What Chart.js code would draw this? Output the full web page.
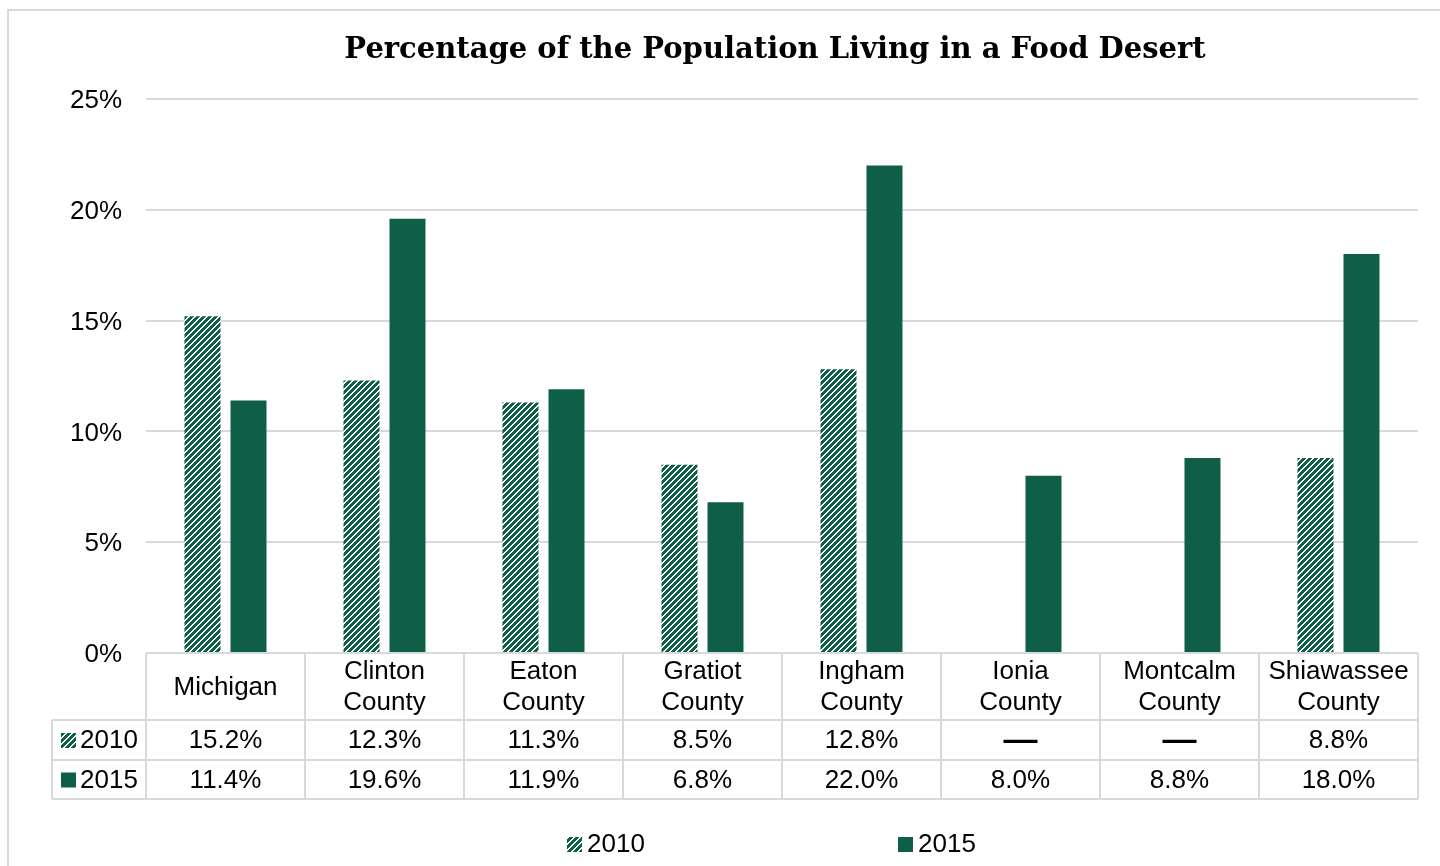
<!DOCTYPE html>
<html>
<head>
<meta charset="utf-8">
<script src="https://cdn.jsdelivr.net/npm/chart.js@4.4.1/dist/chart.umd.min.js"></script>
<style>
  html, body { margin: 0; padding: 0; background: #fff; }
  #wrap { position: relative; width: 1440px; height: 866px; }
</style>
</head>
<body>
<div id="wrap"><canvas id="chartFoodDesert" width="1440" height="866"></canvas></div>
<script>
// ---- data ----
const categories = [
  ['Michigan'],
  ['Clinton', 'County'],
  ['Eaton', 'County'],
  ['Gratiot', 'County'],
  ['Ingham', 'County'],
  ['Ionia', 'County'],
  ['Montcalm', 'County'],
  ['Shiawassee', 'County']
];
const seriesNames = ['2010', '2015'];
const values2010 = [15.2, 12.3, 11.3, 8.5, 12.8, null, null, 8.8];
const values2015 = [11.4, 19.6, 11.9, 6.8, 22.0, 8.0, 8.8, 18.0];
const yTicks = [0, 5, 10, 15, 20, 25];
const chartTitle = 'Percentage of the Population Living in a Food Desert';

const GREEN = '#0e5e48';
const GRID = '#d9d9d9';
const FONT = '"Liberation Sans", Arial, sans-serif';

// hatch fill for 2010 (upward diagonal, pixel stepped like Excel)
function makeHatch() {
  const P = 6;
  const c = document.createElement('canvas');
  c.width = P; c.height = P;
  const g = c.getContext('2d');
  g.fillStyle = GREEN;
  g.fillRect(0, 0, P, P);
  g.fillStyle = '#ffffff';
  for (let y = 0; y < P; y++) {
    for (let x = 0; x < P; x++) {
      const k = (x + y) % P;
      if (k === 0 || k === 1) g.fillRect(x, y, 1, 1);
    }
  }
  return g.createPattern(c, 'repeat');
}
const hatch = makeHatch();

const fmtPct = v => v == null ? '—' : v.toFixed(1) + '%';

function legendKey(ctx, x, y, size, fill) {
  ctx.fillStyle = fill;
  ctx.fillRect(x, y, size, size);
}

// draws title, the data table under the plot and the bottom legend
const tablePlugin = {
  id: 'dataTable',
  afterDraw(chart) {
    const ctx = chart.ctx;
    const xs = chart.scales.x;
    const area = chart.chartArea;
    const n = categories.length;
    const colW = (area.right - area.left) / n;
    const top = area.bottom;
    const rowH = [top, top + 67, top + 107, top + 146];
    const keyLeft = 52;

    ctx.save();
    // outer chart border
    ctx.strokeStyle = GRID;
    ctx.lineWidth = 2;
    ctx.strokeRect(8, 10, 1460, 900);

    // title
    ctx.fillStyle = '#000';
    ctx.font = 'bold 29px "DejaVu Serif", serif';
    ctx.textAlign = 'center';
    ctx.textBaseline = 'middle';
    ctx.fillText(chartTitle, 775, 50);

    // table grid
    ctx.strokeStyle = GRID;
    ctx.lineWidth = 2;
    ctx.beginPath();
    ctx.moveTo(area.left, rowH[0]); ctx.lineTo(area.right, rowH[0]);
    for (let r = 1; r < rowH.length; r++) {
      ctx.moveTo(keyLeft, rowH[r]); ctx.lineTo(area.right, rowH[r]);
    }
    for (let i = 0; i <= n; i++) {
      const x = area.left + i * colW;
      ctx.moveTo(x, rowH[0]); ctx.lineTo(x, rowH[3]);
    }
    ctx.moveTo(keyLeft, rowH[1]); ctx.lineTo(keyLeft, rowH[3]);
    ctx.stroke();

    // header labels
    ctx.fillStyle = '#000';
    ctx.font = '26px ' + FONT;
    const headMid = (rowH[0] + rowH[1]) / 2 + 1;
    categories.forEach((lines, i) => {
      const cx = xs.getPixelForValue(i);
      const lh = 31;
      const y0 = headMid - (lines.length - 1) * lh / 2;
      lines.forEach((t, k) => ctx.fillText(t, cx, y0 + k * lh));
    });

    // data rows
    const rows = [values2010, values2015];
    const fills = [hatch, GREEN];
    rows.forEach((vals, r) => {
      const cy = (rowH[r + 1] + rowH[r + 2]) / 2 + 1;
      ctx.fillStyle = '#000';
      vals.forEach((v, i) => {
        const cx = xs.getPixelForValue(i);
        ctx.font = v == null ? 'bold 34px ' + FONT : '26px ' + FONT;
        ctx.fillText(fmtPct(v), cx, cy);
      });
      legendKey(ctx, 61, cy - 8, 15, fills[r]);
      ctx.fillStyle = '#000';
      ctx.font = '26px ' + FONT;
      ctx.textAlign = 'left';
      ctx.fillText(seriesNames[r], 80, cy);
      ctx.textAlign = 'center';
    });

    // bottom legend
    const legX = [567, 898];
    ctx.textAlign = 'left';
    seriesNames.forEach((s, r) => {
      legendKey(ctx, legX[r], 837, 15, fills[r]);
      ctx.fillStyle = '#000';
      ctx.fillText(s, legX[r] + 20, 845);
    });
    ctx.restore();
  }
};

new Chart(document.getElementById('chartFoodDesert'), {
  type: 'bar',
  data: {
    labels: categories.map(c => c.join(' ')),
    datasets: [
      {
        label: seriesNames[0],
        data: values2010,
        backgroundColor: hatch,
        borderWidth: 0,
        categoryPercentage: 0.5786,
        barPercentage: 0.7826
      },
      {
        label: seriesNames[1],
        data: values2015,
        backgroundColor: GREEN,
        borderWidth: 0,
        categoryPercentage: 0.5786,
        barPercentage: 0.7826
      }
    ]
  },
  options: {
    responsive: false,
    animation: false,
    devicePixelRatio: 1,
    layout: { padding: { top: 99, right: 22, bottom: 213, left: 0 } },
    plugins: {
      legend: { display: false },
      title: { display: false },
      tooltip: { enabled: false }
    },
    scales: {
      x: {
        display: false,
        grid: { display: false }
      },
      y: {
        min: 0,
        max: 25,
        afterBuildTicks: s => { s.ticks = yTicks.map(v => ({ value: v })); },
        afterFit: s => { s.width = 146; },
        border: { display: false },
        grid: { color: GRID, lineWidth: 2, drawTicks: false },
        ticks: {
          padding: 24,
          labelOffset: 2,
          color: '#000',
          font: { family: FONT, size: 26 },
          callback: v => v + '%'
        }
      }
    }
  },
  plugins: [tablePlugin]
});
</script>
</body>
</html>
